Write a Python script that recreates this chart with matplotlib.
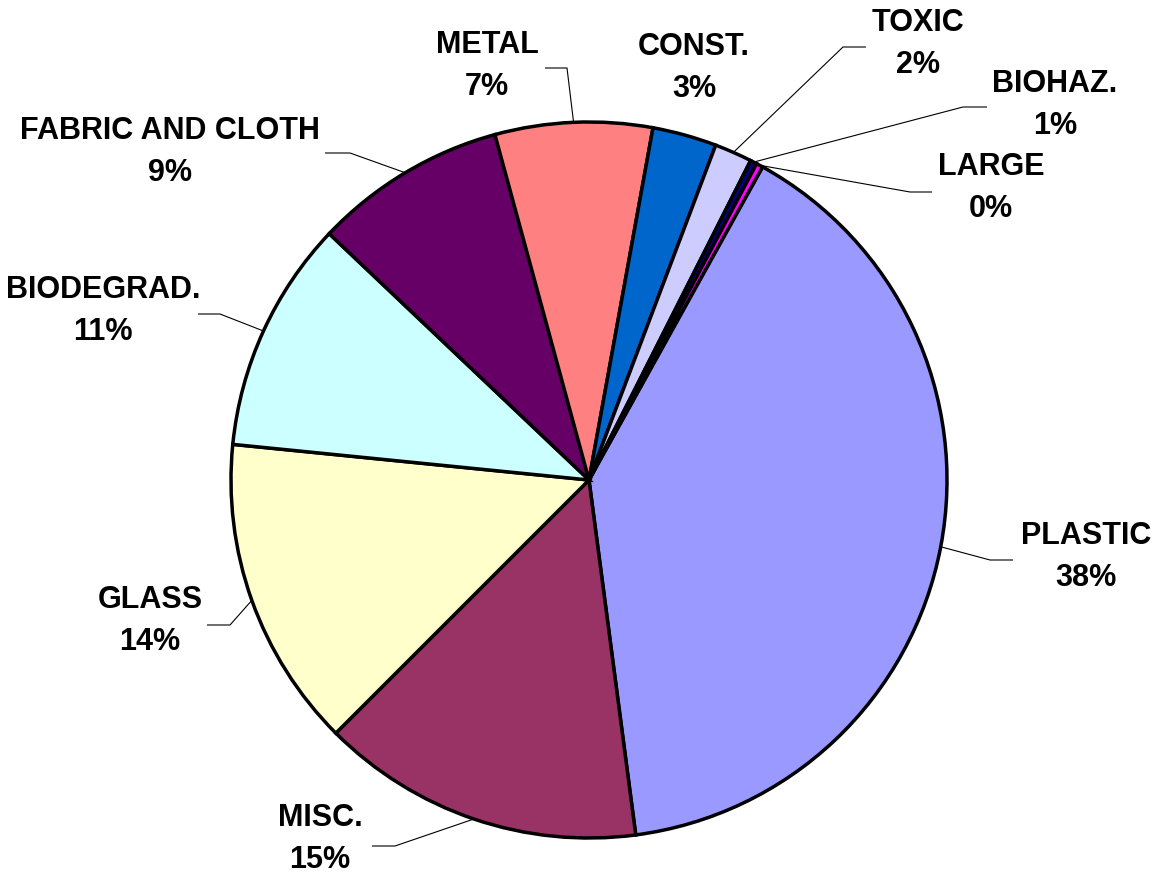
import numpy as np
import matplotlib
matplotlib.use("Agg")
import matplotlib.pyplot as plt

# ---- data (clockwise from the first slice) ----
categories = ["PLASTIC", "MISC.", "GLASS", "BIODEGRAD.", "FABRIC AND CLOTH",
              "METAL", "CONST.", "TOXIC", "BIOHAZ.", "LARGE"]
values = [39.9, 14.6, 14.1, 10.5, 8.7, 7.1, 2.9, 1.7, 0.3, 0.3]
pct_labels = ["38%", "15%", "14%", "11%", "9%", "7%", "3%", "2%", "1%", "0%"]
colors = ["#9999FF", "#993366", "#FFFFCC", "#CCFFFF", "#660066",
          "#FF8080", "#0066CC", "#CCCCFF", "#000080", "#FF00FF"]

# ---- layout (pixel coordinates, y measured from top) ----
W, H = 1155, 875
label_pos = {
    "PLASTIC": (1086, 557),
    "MISC.": (320, 839),
    "GLASS": (150, 621),
    "BIODEGRAD.": (103, 311),
    "FABRIC AND CLOTH": (170, 152),
    "METAL": (487, 66),
    "CONST.": (694, 68),
    "TOXIC": (918, 44),
    "BIOHAZ.": (1055, 105),
    "LARGE": (991, 188),
}
# elbow and end of leader lines (None = no leader)
leaders = {
    "PLASTIC": ((990, 560), (1013, 560)),
    "MISC.": ((395, 846), (372, 846)),
    "GLASS": ((230, 625), (207, 625)),
    "BIODEGRAD.": ((220, 314), (198, 314)),
    "FABRIC AND CLOTH": ((350, 153), (325, 153)),
    "METAL": ((567, 68), (545, 68)),
    "CONST.": None,
    "TOXIC": ((843, 47), (866, 47)),
    "BIOHAZ.": ((963, 107), (987, 107)),
    "LARGE": ((910, 192), (932, 192)),
}

def Y(py):
    return H - py

fig = plt.figure(figsize=(W / 100, H / 100), dpi=100)
ax = fig.add_axes([0, 0, 1, 1])
cx, cy, R = 589, Y(480), 358
wedges, _ = ax.pie(values, colors=colors, startangle=61, counterclock=False,
                   center=(cx, cy), radius=R,
                   wedgeprops=dict(edgecolor="black", linewidth=2.5))
ax.set_xlim(0, W)
ax.set_ylim(0, H)
ax.set_aspect("equal")
ax.axis("off")

for w, cat, pct in zip(wedges, categories, pct_labels):
    lx, ly = label_pos[cat]
    ax.text(lx, Y(ly), f"{cat}\n{pct}", ha="center", va="center",
            fontsize=22, fontweight="bold", family="Liberation Sans",
            linespacing=1.55)
    ld = leaders[cat]
    if ld is not None:
        mid = np.deg2rad((w.theta1 + w.theta2) / 2)
        sx, sy = cx + R * np.cos(mid), cy + R * np.sin(mid)
        (ex, ey), (fx, fy) = ld
        ax.plot([sx, ex, fx], [sy, Y(ey), Y(fy)], color="black", lw=0.8,
                solid_capstyle="butt")

fig.savefig("out.png", dpi=100)
